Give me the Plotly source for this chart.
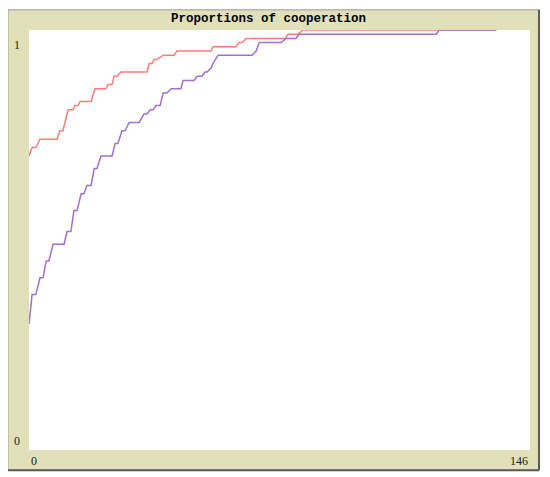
import plotly.graph_objects as go

# step traces (tick, proportion)
red_ticks = [0.0, 0.9, 2.0, 3.2, 8.2, 9.0, 9.9, 11.4, 12.8, 13.4, 14.3, 14.9, 18.1, 19.2,
             22.4, 23.0, 24.2, 24.8, 25.7, 26.8, 34.4, 35.0, 35.9, 36.4, 37.3, 39.1, 42.3,
             43.1, 53.1, 53.6, 60.3, 61.2, 62.1, 63.3, 74.6, 75.5, 78.4, 79.9, 136.2]
red_vals = [0.70, 0.72, 0.72, 0.74, 0.74, 0.76, 0.76, 0.81, 0.81, 0.82, 0.82, 0.83, 0.83, 0.86,
            0.86, 0.87, 0.87, 0.89, 0.89, 0.90, 0.90, 0.92, 0.92, 0.93, 0.93, 0.94, 0.94,
            0.95, 0.95, 0.96, 0.96, 0.97, 0.97, 0.98, 0.98, 0.99, 0.99, 1.00, 1.00]

purple_ticks = [0.0, 0.9, 2.0, 3.2, 4.1, 5.0, 5.8, 7.0, 10.2, 11.1, 12.2, 13.1, 14.0, 15.2,
                16.0, 16.9, 18.1, 19.0, 19.8, 21.0, 24.2, 25.1, 25.9, 27.1, 28.0, 29.2, 32.1,
                33.5, 34.4, 35.3, 36.2, 37.0, 38.2, 39.1, 40.2, 41.4, 44.3, 44.9, 48.1, 49.0,
                50.4, 51.3, 51.9, 53.1, 53.6, 55.1, 65.0, 66.2, 67.1, 73.5, 74.9, 77.8, 78.7,
                118.7, 119.5, 136.2]
purple_vals = [0.30, 0.37, 0.37, 0.41, 0.41, 0.45, 0.45, 0.49, 0.49, 0.52, 0.52, 0.57, 0.57, 0.61,
               0.61, 0.63, 0.63, 0.67, 0.67, 0.70, 0.70, 0.73, 0.73, 0.76, 0.76, 0.78, 0.78,
               0.80, 0.80, 0.81, 0.81, 0.82, 0.82, 0.85, 0.85, 0.86, 0.86, 0.88, 0.88, 0.89,
               0.89, 0.90, 0.90, 0.91, 0.92, 0.94, 0.94, 0.95, 0.97, 0.97, 0.98, 0.98, 0.99,
               0.99, 1.00, 1.00]

x_max = 146
y_max = 1
tick_font = dict(family='Liberation Serif', size=12, color='#222222')
tan = '#E1E0B8'

fig = go.Figure()
fig.add_trace(go.Scatter(x=red_ticks, y=red_vals, mode='lines',
                         line=dict(color='#FF7F78', width=1.5)))
fig.add_trace(go.Scatter(x=purple_ticks, y=purple_vals, mode='lines',
                         line=dict(color='#A06FD0', width=1.5)))

# tan frame around the white plot area
fig.add_shape(type='rect', xref='paper', yref='paper', x0=-0.042, x1=1.018,
              y0=-0.048, y1=1.048, fillcolor=tan, line=dict(color='#9A9A9A', width=1),
              layer='below')
fig.add_shape(type='rect', xref='paper', yref='paper', x0=0, x1=1, y0=0, y1=1,
              fillcolor='white', line=dict(width=0), layer='below')
fig.add_shape(type='line', xref='paper', yref='paper', x0=-0.042, x1=1.018,
              y0=-0.048, y1=-0.048, line=dict(color='#5A5A5A', width=2))
fig.add_shape(type='line', xref='paper', yref='paper', x0=1.018, x1=1.018,
              y0=-0.048, y1=1.048, line=dict(color='#5A5A5A', width=2))

fig.add_annotation(text='<b>Proportions of cooperation</b>', xref='paper', yref='paper',
                   x=0.478, y=1.026, xanchor='center', yanchor='middle', showarrow=False,
                   font=dict(family='Liberation Mono', size=12.5, color='black'))
fig.add_annotation(text=str(y_max), xref='paper', yref='y', x=-0.014, y=y_max,
                   xanchor='right', yanchor='top', yshift=-6, showarrow=False, font=tick_font)
fig.add_annotation(text='0', xref='paper', yref='y', x=-0.014, y=0,
                   xanchor='right', yanchor='bottom', yshift=0, showarrow=False, font=tick_font)
fig.add_annotation(text='0', xref='x', yref='paper', x=0, y=0,
                   xanchor='left', yanchor='top', yshift=-2, showarrow=False, font=tick_font)
fig.add_annotation(text=str(x_max), xref='x', yref='paper', x=x_max, y=0,
                   xanchor='right', yanchor='top', yshift=-2, showarrow=False, font=tick_font)

fig.update_xaxes(range=[0, x_max], visible=False)
fig.update_yaxes(range=[0, y_max], visible=False)
# page body has an 8px margin, so the figure is 8px smaller and shifted
fig.update_layout(width=542, height=469, showlegend=False,
                  margin=dict(l=21, r=20, t=22, b=27),
                  plot_bgcolor='white', paper_bgcolor='white')
fig.write_html('out.html')
